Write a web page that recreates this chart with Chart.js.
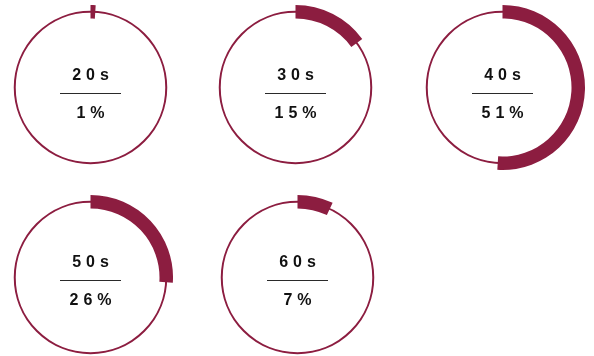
<!DOCTYPE html>
<html>
<head>
<meta charset="utf-8">
<script src="https://cdn.jsdelivr.net/npm/chart.js@4/dist/chart.umd.min.js"></script>
<style>
    html, body { margin: 0; padding: 0; background: #fff; }
    #wrap { position: relative; width: 594px; height: 356px; overflow: hidden; }
    #wrap canvas { position: absolute; }
</style>
</head>
<body>
<div id="wrap"></div>
<script>
// Age groups and their share
const ageGroups = ['20s', '30s', '40s', '50s', '60s'];
const shares = [1, 15, 51, 26, 7];

// Gauge centres on the page, plus a vertical nudge for the centre text
const slots = [[90, 87.5, 0], [295, 87.5, 0], [502, 87.5, 0], [90, 277, -3], [297, 277, -3]];

const maroon = '#8c1d40';
const size = 165;

// Draws text with wide letter spacing, centred on x
function spacedText(ctx, text, x, y, spacing) {
    const chars = text.split('');
    const widths = chars.map(c => ctx.measureText(c).width);
    const total = widths.reduce((a, b) => a + b, 0) + spacing * (chars.length - 1);
    let cur = x - total / 2;
    chars.forEach((c, i) => {
        ctx.fillText(c, cur, y);
        cur += widths[i] + spacing;
    });
}

const gaugePlugin = {
    id: 'gauge',
    beforeDatasetsDraw(chart) {
        const ctx = chart.ctx;
        const arc = chart.getDatasetMeta(0).data[0];
        const { x, y, innerRadius, outerRadius } = arc.getProps(['x', 'y', 'innerRadius', 'outerRadius'], true);
        // thin full ring under the thick arc
        ctx.save();
        ctx.beginPath();
        ctx.arc(x, y, (innerRadius + outerRadius) / 2, 0, Math.PI * 2);
        ctx.lineWidth = 2;
        ctx.strokeStyle = maroon;
        ctx.stroke();
        ctx.restore();
    },
    afterDatasetsDraw(chart, args, opts) {
        const ctx = chart.ctx;
        const arc = chart.getDatasetMeta(0).data[0];
        const { x } = arc.getProps(['x'], true);
        const y = arc.getProps(['y'], true).y + opts.shift;
        ctx.save();
        ctx.fillStyle = '#111';
        ctx.font = 'bold 16px "Liberation Sans", Arial, sans-serif';
        ctx.textBaseline = 'alphabetic';
        ctx.textAlign = 'left';
        spacedText(ctx, opts.title, x, y - 7.5, 5);
        spacedText(ctx, opts.value + '%', x, y + 30.5, 5);
        const ly = Math.floor(y + 6) + 0.5;
        ctx.beginPath();
        ctx.moveTo(x - 30.5, ly);
        ctx.lineTo(x + 30.5, ly);
        ctx.lineWidth = 1;
        ctx.strokeStyle = '#2a2a2a';
        ctx.stroke();
        ctx.restore();
    }
};

const wrap = document.getElementById('wrap');

ageGroups.forEach((group, i) => {
    const canvas = document.createElement('canvas');
    canvas.width = size;
    canvas.height = size;
    canvas.style.left = (slots[i][0] - size / 2) + 'px';
    canvas.style.top = (slots[i][1] - size / 2) + 'px';
    wrap.appendChild(canvas);

    new Chart(canvas, {
        type: 'doughnut',
        data: {
            labels: [group, ''],
            datasets: [{
                data: [shares[i], 100 - shares[i]],
                backgroundColor: [maroon, 'rgba(0,0,0,0)'],
                borderWidth: 0,
                hoverBorderWidth: 0,
                hoverOffset: 0
            }]
        },
        options: {
            responsive: false,
            animation: false,
            devicePixelRatio: 1,
            cutout: 69,
            layout: { padding: 0 },
            events: [],
            plugins: {
                legend: { display: false },
                tooltip: { enabled: false },
                gauge: { title: group, value: shares[i], shift: slots[i][2] }
            }
        },
        plugins: [gaugePlugin]
    });
});
</script>
</body>
</html>
